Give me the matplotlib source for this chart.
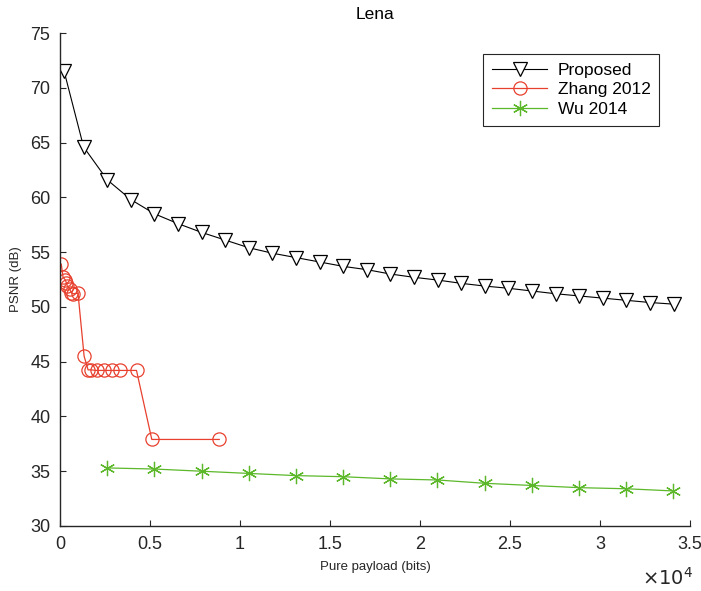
import matplotlib
matplotlib.use("Agg")
import matplotlib.pyplot as plt
from matplotlib.ticker import FuncFormatter, MultipleLocator

plt.rcParams['font.family'] = ['Liberation Sans', 'DejaVu Sans']

# Proposed
prop_x = [230] + [1311 * k for k in range(1, 27)]
prop_y = [71.5, 64.6, 61.6, 59.8, 58.5, 57.6, 56.8, 56.1, 55.4, 54.9, 54.5,
          54.1, 53.7, 53.4, 53.0, 52.7, 52.45, 52.15, 51.9, 51.7, 51.45,
          51.2, 51.0, 50.8, 50.6, 50.4, 50.25]

# Zhang 2012
zhang_x = [70, 170, 300, 350, 410, 540, 630, 730, 1000, 1340, 1560, 1720,
           2030, 2460, 2900, 3340, 4250, 5100, 8850]
zhang_y = [53.9, 52.7, 52.45, 52.2, 51.9, 51.6, 51.3, 51.2, 51.25, 45.5,
           44.25, 44.25, 44.2, 44.2, 44.2, 44.2, 44.2, 37.9, 37.9]

# Wu 2014
wu_x = [2621 * k for k in range(1, 14)]
wu_y = [35.3, 35.2, 35.0, 34.8, 34.6, 34.5, 34.3, 34.2, 33.9, 33.7, 33.5,
        33.4, 33.2]

labels = ['Proposed', 'Zhang 2012', 'Wu 2014']

axc = '#262626'
fig = plt.figure(figsize=(7.01, 5.91), dpi=100)
ax = fig.add_axes([60 / 701, 1 - 526 / 591, 630 / 701, 493 / 591])

ax.plot(prop_x, prop_y, color='black', lw=0.8, marker='v', ms=9.5,
        mfc='white', mec='black', mew=0.9, label=labels[0])
ax.plot(zhang_x, zhang_y, color='#e8402e', lw=0.9, marker='o', ms=9.5,
        mfc='none', mec='#e8402e', mew=0.9, label=labels[1])
ax.plot(wu_x, wu_y, color='#5cb82a', lw=0.9, marker=(6, 2, 0), ms=11,
        mfc='none', mec='#5cb82a', mew=0.9, label=labels[2])

ax.set_xlim(0, 35000)
ax.set_ylim(30, 75)
ax.xaxis.set_major_locator(MultipleLocator(5000))
ax.yaxis.set_major_locator(MultipleLocator(5))
ax.xaxis.set_major_formatter(FuncFormatter(lambda v, p: ('%g' % (v / 1e4))))
ax.tick_params(direction='in', labelsize=13, length=4, width=0.8, pad=7,
               colors=axc, labelcolor=axc)
for s in ['top', 'right']:
    ax.spines[s].set_visible(False)
for s in ['left', 'bottom']:
    ax.spines[s].set_linewidth(1.0)
    ax.spines[s].set_color(axc)

ax.set_title('Lena', fontsize=12.5, pad=10)
ax.set_xlabel('Pure payload (bits)', fontsize=9.5, labelpad=6, color=axc)
ax.set_ylabel('PSNR (dB)', fontsize=9.5, labelpad=6, color=axc)
ax.text(1.005, -0.082, r'$\times10^4$', transform=ax.transAxes,
        ha='right', va='top', fontsize=14, color=axc)

leg = ax.legend(loc='upper right', bbox_to_anchor=(0.965, 0.975), fontsize=12.5,
                fancybox=False, edgecolor=axc, framealpha=1,
                handlelength=3.2, borderpad=0.5, labelspacing=0.25,
                handletextpad=0.6)
leg.get_frame().set_linewidth(0.8)
for t in leg.get_texts():
    t.set_color('black')

fig.savefig('out.png', dpi=100)
